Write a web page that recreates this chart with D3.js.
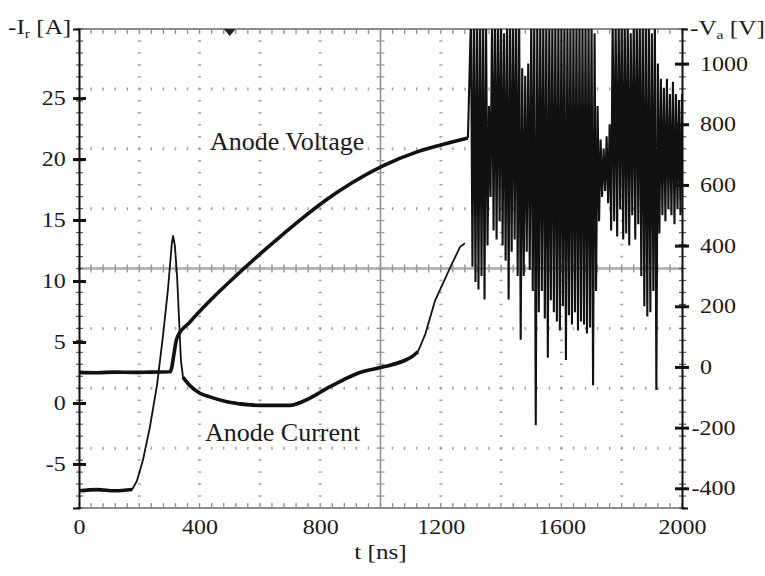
<!DOCTYPE html>
<html>
<head>
<meta charset="utf-8">
<script src="https://cdn.jsdelivr.net/npm/d3@7"></script>
<style>
body { margin: 0; background: #fff; }
text { font-family: "Liberation Serif", "Times New Roman", serif; fill: #1a1a1a; }
</style>
</head>
<body>
<div id="chart"></div>
<script>

// anode voltage before breakdown: time [ns], -Va [V]
var voltT = [0, 60, 120, 180, 240, 302, 325, 368, 434, 520, 600, 680, 733, 816, 899, 1008, 1121, 1231, 1290];
var voltV = [-18, -19, -17, -18, -17, -16, 96, 148, 218, 300, 372, 440, 484, 548, 603, 663, 709, 740, 755];

// anode current: time [ns], -Ir [A]
var currT = [0, 60, 120, 176, 192, 212, 235, 259, 279, 295, 308, 312, 318, 325, 332, 338, 345, 365, 401, 434, 490, 600, 700, 766, 822, 877, 932, 1000, 1098, 1124, 1148, 1181, 1231, 1264, 1280];
var currI = [-7.2, -7.1, -7.2, -7.1, -6.4, -4.7, -2.0, 1.5, 5.6, 9.3, 13.1, 13.7, 12.9, 10.5, 6.8, 3.5, 2.1, 1.5, 0.8, 0.5, 0.1, -0.2, -0.2, 0.4, 1.2, 1.9, 2.5, 2.9, 3.7, 4.2, 5.6, 8.4, 11.1, 12.8, 13.1];

// oscillation after breakdown, envelope read per 10 ns: max / min of -Va [V]
var noiseT = [1300, 1310, 1320, 1330, 1340, 1350, 1360, 1370, 1380, 1390,
              1400, 1410, 1420, 1430, 1440, 1450, 1460, 1470, 1480, 1490,
              1500, 1510, 1520, 1530, 1540, 1550, 1560, 1570, 1580, 1590,
              1600, 1610, 1620, 1630, 1640, 1650, 1660, 1670, 1680, 1690,
              1700, 1710, 1720, 1730, 1740, 1750, 1760, 1770, 1780, 1790,
              1800, 1810, 1820, 1830, 1840, 1850, 1860, 1870, 1880, 1890,
              1900, 1910, 1920, 1930, 1940, 1950, 1960, 1970, 1980, 1990, 2000];
var noiseHi = [1150, 1150, 1150, 1150, 1150, 1150, 860, 1150, 1150, 1150,
               1150, 1100, 1150, 1150, 1150, 1150, 1150, 985, 960, 1000,
               1150, 1150, 1150, 1150, 1150, 1150, 1150, 1150, 1150, 1150,
               1150, 1150, 1150, 1150, 1150, 1150, 1150, 1150, 1150, 1150,
               1150, 1100, 860, 750, 720, 760, 800, 1150, 1150, 1150,
               1150, 1150, 1150, 1100, 1150, 1150, 1150, 1150, 1150, 1150,
               1100, 1150, 1000, 950, 920, 950, 900, 940, 900, 880, 900];
var noiseLo = [330, 280, 255, 300, 222, 400, 560, 450, 420, 480,
               400, 350, 222, 380, 420, 300, 90, 300, 380, 320,
               250, -192, 180, 250, 160, 30, 220, 180, 150, 120,
               200, 23, 170, 140, 180, 120, 150, 140, 110, 130,
               -60, 250, 480, 560, 580, 540, 450, 480, 430, 520,
               420, 440, 400, 500, 420, 470, 300, 200, 166, 180,
               250, -76, 440, 500, 480, 520, 500, 470, 520, 500, 540];

// tick labels
var tTicks = [0, 400, 800, 1200, 1600, 2000];
var iTicks = [-5, 0, 5, 10, 15, 20, 25];
var vTicks = [-400, -200, 0, 200, 400, 600, 800, 1000];

var margin = { top: 29, right: 83, bottom: 68, left: 79 },
    width = 765 - margin.left - margin.right,
    height = 576 - margin.top - margin.bottom;

var svg = d3.select("#chart")
    .append("svg")
    .attr("width", 765)
    .attr("height", 576)
    .append("g")
    .attr("transform", "translate(" + margin.left + "," + margin.top + ")");

var x = d3.scaleLinear().domain([0, 2000]).range([0, width]);
var yI = d3.scaleLinear().domain([-8.61, 30.66]).range([height, 0]);
var yV = d3.scaleLinear().domain([-465, 1114]).range([height, 0]);
var fmt = function (d) { return String(d) };

svg.append("clipPath").attr("id", "plot")
    .append("rect").attr("width", width).attr("height", height);

// scope graticule: 10 x 8 divisions, 5 minor marks per division
var divX = d3.range(0, 11).map(function (i) { return x(i * 200) });
var divY = d3.range(0, 9).map(function (i) { return i * height / 8 });
var minorX = d3.range(0, 51).map(function (i) { return x(i * 40) });
var minorY = d3.range(0, 41).map(function (i) { return i * height / 40 });

var grid = svg.append("g").attr("stroke", "#a0a0a0").attr("stroke-width", 1.5);
divX.slice(1, 10).forEach(function (gx, i) {
    if (i == 4) return;
    grid.selectAll(null).data(minorY).enter().append("line")
        .attr("x1", gx - 1.5).attr("x2", gx + 1.5)
        .attr("y1", function (d) { return d }).attr("y2", function (d) { return d });
});
divY.slice(1, 8).forEach(function (gy, i) {
    if (i == 3) return;
    grid.selectAll(null).data(minorX).enter().append("line")
        .attr("x1", function (d) { return d }).attr("x2", function (d) { return d })
        .attr("y1", gy - 1.5).attr("y2", gy + 1.5);
});

// centre cross
var cx = x(1000), cy = height / 2;
svg.append("line").attr("x1", 0).attr("x2", width).attr("y1", cy).attr("y2", cy)
    .attr("stroke", "#aaaaaa").attr("stroke-width", 2.5);
svg.selectAll(null).data(minorX).enter().append("line")
    .attr("x1", function (d) { return d }).attr("x2", function (d) { return d })
    .attr("y1", cy - 4).attr("y2", cy + 4)
    .attr("stroke", "#999").attr("stroke-width", 1.5);
svg.append("line").attr("x1", cx).attr("x2", cx).attr("y1", 0).attr("y2", height)
    .attr("stroke", "#8a8a8a").attr("stroke-width", 1.5);
svg.selectAll(null).data(minorY).enter().append("line")
    .attr("x1", cx - 4).attr("x2", cx + 4)
    .attr("y1", function (d) { return d }).attr("y2", function (d) { return d })
    .attr("stroke", "#999").attr("stroke-width", 1.3);

// frame: grey top / bottom with minor ticks
[0, height].forEach(function (fy, k) {
    svg.append("line").attr("x1", 0).attr("x2", width).attr("y1", fy).attr("y2", fy)
        .attr("stroke", "#8c8c8c").attr("stroke-width", 2);
    svg.selectAll(null).data(minorX).enter().append("line")
        .attr("x1", function (d) { return d }).attr("x2", function (d) { return d })
        .attr("y1", fy).attr("y2", k == 0 ? fy + 5 : fy - 5)
        .attr("stroke", "#8c8c8c").attr("stroke-width", 1.3);
});

// minor ticks on the two vertical axes
[0, width].forEach(function (fx) {
    svg.selectAll(null).data(minorY).enter().append("line")
        .attr("x1", fx - 3).attr("x2", fx + 4)
        .attr("y1", function (d) { return d }).attr("y2", function (d) { return d })
        .attr("stroke", "#555").attr("stroke-width", 1.2);
});

// trigger marker
svg.append("path")
    .attr("d", "M" + (x(500) - 6) + ",0 L" + (x(500) + 6) + ",0 L" + x(500) + ",7 Z")
    .attr("fill", "#222");

// traces
var traces = svg.append("g").attr("clip-path", "url(#plot)");

var noisePts = [[voltT[voltT.length - 1], voltV[voltV.length - 1]]];
noiseT.forEach(function (t, i) {
    noisePts.push([t, noiseHi[i]]);
    noisePts.push([t + 5, noiseLo[i]]);
});
traces.append("path")
    .datum(noisePts)
    .attr("d", d3.line()
        .x(function (d) { return x(d[0]) })
        .y(function (d) { return yV(d[1]) }))
    .attr("fill", "none")
    .attr("stroke", "#111")
    .attr("stroke-width", 2.1);

var currPts = currT.map(function (t, i) { return [t, currI[i]] });
var currLine = d3.line()
    .x(function (d) { return x(d[0]) })
    .y(function (d) { return yI(d[1]) });
traces.append("path")
    .datum(currPts)
    .attr("d", currLine)
    .attr("fill", "none")
    .attr("stroke", "#111")
    .attr("stroke-width", 1.8)
    .attr("stroke-linejoin", "round");
// the flat, noisy stretches of the current trace look thicker
traces.append("path")
    .datum(currPts)
    .attr("d", d3.line()
        .defined(function (d) { return d[0] <= 176 || (d[0] >= 345 && d[0] <= 1124) })
        .curve(d3.curveMonotoneX)
        .x(function (d) { return x(d[0]) })
        .y(function (d) { return yI(d[1]) }))
    .attr("fill", "none")
    .attr("stroke", "#111")
    .attr("stroke-width", 3.6)
    .attr("stroke-linejoin", "round");

traces.append("path")
    .datum(voltT.map(function (t, i) { return [t, voltV[i]] }))
    .attr("d", d3.line()
        .curve(d3.curveMonotoneX)
        .x(function (d) { return x(d[0]) })
        .y(function (d) { return yV(d[1]) }))
    .attr("fill", "none")
    .attr("stroke", "#111")
    .attr("stroke-width", 3.6)
    .attr("stroke-linejoin", "round");

// left axis
var axL = svg.append("g").call(d3.axisLeft(yI).tickValues(iTicks).tickFormat(fmt).tickSize(6));
axL.select(".domain").attr("stroke", "#111").attr("stroke-width", 2);
axL.selectAll(".tick line").attr("x1", -6).attr("x2", 7).attr("stroke", "#111").attr("stroke-width", 3);
axL.selectAll(".tick text")
    .attr("x", -11).attr("dy", "0.33em")
    .attr("transform", "scale(1.2,1)")
    .style("font-size", "20px").style("font-family", "Liberation Serif");

// right axis
var axR = svg.append("g").attr("transform", "translate(" + width + ",0)")
    .call(d3.axisRight(yV).tickValues(vTicks).tickFormat(fmt).tickSize(6));
axR.select(".domain").attr("stroke", "#111").attr("stroke-width", 2);
axR.selectAll(".tick line").attr("x1", -7).attr("x2", 7).attr("stroke", "#111").attr("stroke-width", 3);
axR.selectAll(".tick text")
    .attr("x", function (d) { return d < 0 ? 8 : 15 }).attr("dy", "0.33em")
    .attr("transform", "scale(1.2,1)")
    .style("font-size", "20px").style("font-family", "Liberation Serif");

// bottom labels
var axB = svg.append("g").attr("transform", "translate(0," + height + ")")
    .call(d3.axisBottom(x).tickValues(tTicks).tickFormat(fmt).tickSize(0).tickPadding(0));
axB.select(".domain").remove();
axB.selectAll(".tick text")
    .attr("x", 0).attr("y", 26).attr("dy", 0)
    .attr("transform", "scale(1.2,1)")
    .style("font-size", "20px").style("font-family", "Liberation Serif");

// texts
function label(parent, px, py, anchor, size) {
    return parent.append("text")
        .attr("transform", "translate(" + px + "," + py + ") scale(1.2,1)")
        .attr("text-anchor", anchor)
        .style("font-size", size + "px");
}

var tl = label(svg, -71, 5, "start", 21);
tl.append("tspan").text("-I");
tl.append("tspan").attr("dy", 4).style("font-size", "13px").text("r");
tl.append("tspan").attr("dy", -4).text(" [A]");

var tr = label(svg, width + 8, 6, "start", 21);
tr.append("tspan").text("-V");
tr.append("tspan").attr("dy", 4).style("font-size", "13px").text("a");
tr.append("tspan").attr("dy", -4).text(" [V]");

label(svg, x(1000), height + 51, "middle", 21).text("t [ns]");

svg.append("text").attr("x", 131).attr("y", 121)
    .style("font-size", "26px").text("Anode Voltage");
svg.append("text").attr("x", 126).attr("y", 412)
    .style("font-size", "26px").text("Anode Current");

</script>
</body>
</html>
